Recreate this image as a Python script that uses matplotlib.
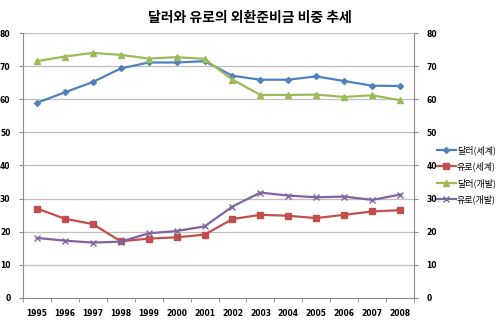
import matplotlib
matplotlib.use("Agg")
import matplotlib.pyplot as plt

plt.rcParams["font.family"] = ["Noto Sans CJK KR", "DejaVu Sans"]

years = ["1995", "1996", "1997", "1998", "1999", "2000", "2001",
         "2002", "2003", "2004", "2005", "2006", "2007", "2008"]
usd_world = [58.9, 62.1, 65.2, 69.3, 71.1, 71.1, 71.5,
             67.1, 65.9, 65.9, 66.9, 65.5, 64.1, 64.0]
eur_world = [27.0, 23.9, 22.3, 17.1, 17.9, 18.3, 19.1,
             23.8, 25.1, 24.8, 24.1, 25.1, 26.1, 26.5]
usd_dev = [71.5, 72.9, 74.0, 73.4, 72.3, 72.7, 72.2,
           65.9, 61.3, 61.3, 61.4, 60.7, 61.2, 59.7]
eur_dev = [18.1, 17.3, 16.7, 17.0, 19.5, 20.2, 21.6,
           27.6, 31.8, 30.9, 30.4, 30.6, 29.6, 31.2]
labels = ["달러(세계)", "유로(세계)", "달러(개발)", "유로(개발)"]
yticks = [0, 10, 20, 30, 40, 50, 60, 70, 80]

fig = plt.figure(figsize=(5.0, 3.27), dpi=100)
ax = fig.add_axes([0.046, 0.089, 0.782, 0.81])

x = list(range(len(years)))
ax.plot(x, usd_world, color="#4F81BD", marker="D", markersize=3, lw=1.6, label=labels[0])
ax.plot(x, eur_world, color="#C0504D", marker="s", markersize=4, lw=1.6, label=labels[1])
ax.plot(x, usd_dev, color="#9BBB59", marker="^", markersize=4, lw=1.6, label=labels[2])
ax.plot(x, eur_dev, color="#8064A2", marker="x", markersize=4, mew=1, lw=1.6, label=labels[3])

ax.set_xlim(-0.5, len(years) - 0.5)
ax.set_ylim(0, 80)
ax.set_yticks(yticks)
ax.yaxis.grid(True, color="#BFBFBF", lw=0.9)
ax.set_axisbelow(True)

ax.set_xticks(x)
ax.set_xticklabels(years, fontsize=5.5, fontweight="bold", family="DejaVu Sans")
ax.set_xticks([i - 0.5 for i in range(len(years) + 1)], minor=True)
ax.tick_params(axis="x", which="major", length=0, pad=8)
ax.tick_params(axis="x", which="minor", length=3, color="#8C8C8C")
ax.tick_params(axis="y", length=3, color="#8C8C8C", labelsize=5.5, pad=6)
for lbl in ax.get_yticklabels():
    lbl.set_fontweight("bold")
    lbl.set_family("DejaVu Sans")

for s in ["top", "right"]:
    ax.spines[s].set_visible(False)
for s in ["left", "bottom"]:
    ax.spines[s].set_color("#8C8C8C")

ax2 = ax.twinx()
ax2.set_ylim(0, 80)
ax2.set_yticks(yticks)
ax2.tick_params(axis="y", length=3, color="#8C8C8C", labelsize=5.5, pad=6)
for lbl in ax2.get_yticklabels():
    lbl.set_fontweight("bold")
    lbl.set_family("DejaVu Sans")
for s in ["top", "left", "bottom"]:
    ax2.spines[s].set_visible(False)
ax2.spines["right"].set_color("#8C8C8C")

ax.legend(loc="center left", bbox_to_anchor=(1.06, 0.465), frameon=False,
          fontsize=6.5, handlelength=2.0, handletextpad=0.15, labelspacing=0.75,
          borderaxespad=0, borderpad=0)

fig.text(0.5, 0.945, "달러와 유로의 외환준비금 비중 추세", ha="center", va="center",
         fontsize=10, fontweight="bold")

fig.savefig("out.png", dpi=100)
